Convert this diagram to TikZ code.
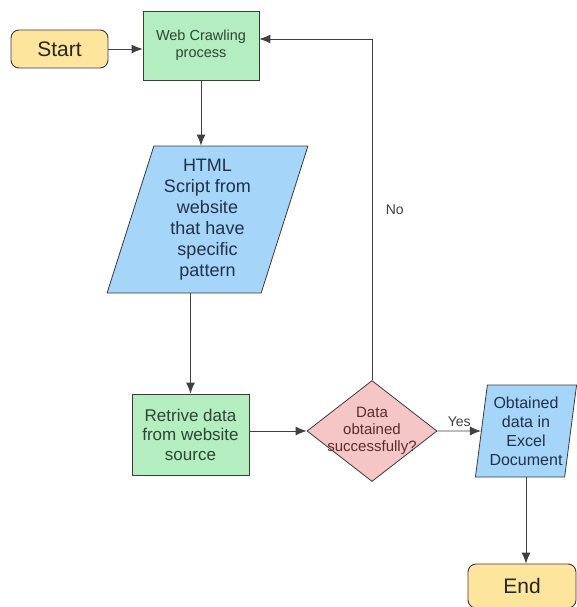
\documentclass[tikz,border=0pt]{standalone}
\usepackage{fontspec}
\setmainfont{Liberation Sans}
\usetikzlibrary{arrows.meta, shapes.geometric}
\definecolor{startfill}{HTML}{FDE59E}
\definecolor{procfill}{HTML}{B4EDBF}
\definecolor{iofill}{HTML}{A5D5F8}
\definecolor{decfill}{HTML}{F6C5C5}
\definecolor{edgecol}{HTML}{3A3A3A}
\definecolor{proctext}{HTML}{2C4634}
\definecolor{iotext}{HTML}{22304A}
\definecolor{dectext}{HTML}{5A2C2C}
\tikzset{
  terminal/.style={
    rectangle,
    rounded corners=8pt,
    draw=edgecol,
    fill=startfill,
    line width=0.9pt,
    text=black!85,
    font=\fontsize{21pt}{24pt}\selectfont
  },
  process/.style={
    rectangle,
    draw=edgecol,
    fill=procfill,
    line width=0.8pt,
    align=center,
    text=proctext
  },
  iobox/.style={
    trapezium,
    trapezium stretches=true,
    draw=edgecol,
    fill=iofill,
    line width=0.8pt,
    align=center,
    inner sep=0pt,
    text=iotext
  },
  decision/.style={
    diamond,
    draw=edgecol,
    fill=decfill,
    line width=0.8pt,
    align=center,
    aspect=1.3,
    inner xsep=-12pt,
    inner ysep=-8pt,
    text=dectext
  },
  arrow/.style={
    -{Latex[length=11pt,width=9pt]},
    draw=black!75,
    line width=0.9pt
  },
  edgelabel/.style={
    text=black!75,
    font=\fontsize{14pt}{16pt}\selectfont
  }
}
\begin{document}
\begin{tikzpicture}[x=1pt, y=-1pt]
    \useasboundingbox (0,0) rectangle (576,607);
    \node[terminal, minimum width=97pt, minimum height=38pt] (start) at (59.5,49) {Start};
    \node[process, minimum width=116pt, minimum height=69pt,
      font=\fontsize{14.5pt}{17pt}\selectfont] (crawl) at (201,45.5) {Web Crawling\\process};
    \node[iobox, minimum width=201pt, minimum height=147pt,
      trapezium left angle=72.6, trapezium right angle=107.4,
      font=\fontsize{18pt}{21pt}\selectfont] (html) at (207.5,219.5)
      {HTML\\Script from\\website\\that have\\specific\\pattern};
    \node[process, minimum width=117pt, minimum height=81pt,
      font=\fontsize{17pt}{19.5pt}\selectfont] (retrive) at (190.5,434.5)
      {Retrive data\\from website\\source};
    \node[decision, minimum width=130pt, minimum height=101pt,
      font=\fontsize{15pt}{17pt}\selectfont] (check) at (372,431)
      {Data\\obtained\\successfully?};
    \node[iobox, minimum width=102pt, minimum height=92pt,
      trapezium left angle=80.7, trapezium right angle=99.3,
      font=\fontsize{16pt}{19pt}\selectfont] (excel) at (526,431)
      {Obtained\\data in\\Excel\\Document};
    \node[terminal, minimum width=108pt, minimum height=44pt] (end) at (522,586) {End};

    \draw[arrow] (start.east) -- (start.east -| crawl.west);
    \draw[arrow] (crawl.south) -- (crawl.south |- html.north);
    \draw[arrow] (html.south -| retrive.north) -- (retrive.north);
    \draw[arrow] (retrive.east |- check.west) -- (check.west);
    \draw[arrow] (check.east) -- node[above=1pt, edgelabel] {Yes} (excel.west);
    \draw[arrow] (excel.south) -- (excel.south |- end.north);
    \draw[arrow] (check.north) |- node[pos=0.25, right=10pt, edgelabel] {No} ([yshift=6.5pt]crawl.east);
\end{tikzpicture}
\end{document}
